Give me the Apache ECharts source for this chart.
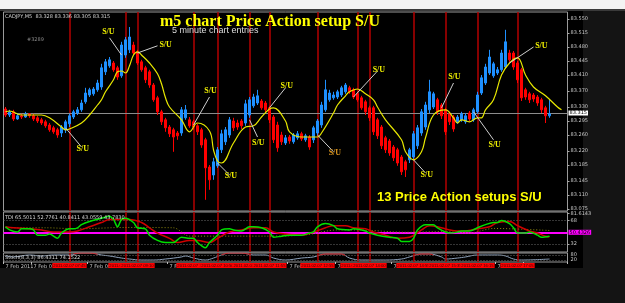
<!DOCTYPE html>
<html>
<head>
<meta charset="utf-8">
<script src="https://cdn.jsdelivr.net/npm/echarts@6/dist/echarts.min.js"></script>
<style>
  html, body { margin: 0; padding: 0; background: #000; }
  #chart { width: 625px; height: 303px; }
</style>
</head>
<body>
<div id="chart"></div>
<script>
// CADJPY M5, 137 bars
const opens = [83.325, 83.310, 83.318, 83.300, 83.308, 83.305, 83.313, 83.308, 83.303, 83.298,
  83.293, 83.285, 83.278, 83.273, 83.265, 83.273, 83.288, 83.305, 83.315, 83.323,
  83.343, 83.360, 83.363, 83.373, 83.380, 83.418, 83.433, 83.440, 83.428, 83.408,
  83.460, 83.473, 83.485, 83.468, 83.443, 83.428, 83.418, 83.385, 83.353, 83.318,
  83.298, 83.280, 83.273, 83.265, 83.265, 83.303, 83.298, 83.293, 83.283, 83.273,
  83.248, 83.180, 83.160, 83.183, 83.223, 83.243, 83.260, 83.295, 83.290, 83.295,
  83.290, 83.310, 83.333, 83.340, 83.345, 83.340, 83.328, 83.305, 83.285, 83.260,
  83.240, 83.255, 83.243, 83.253, 83.263, 83.248, 83.255, 83.248, 83.265, 83.285,
  83.323, 83.348, 83.353, 83.355, 83.360, 83.368, 83.378, 83.373, 83.363, 83.353,
  83.343, 83.328, 83.328, 83.298, 83.280, 83.253, 83.245, 83.230, 83.223, 83.205,
  83.193, 83.198, 83.205, 83.233, 83.265, 83.280, 83.323, 83.330, 83.348, 83.335,
  83.323, 83.313, 83.305, 83.293, 83.298, 83.293, 83.315, 83.298, 83.318, 83.365,
  83.390, 83.415, 83.408, 83.415, 83.423, 83.430, 83.465, 83.465, 83.440, 83.423,
  83.373, 83.363, 83.360, 83.355, 83.348, 83.328, 83.308];
const closes = [83.310, 83.318, 83.300, 83.308, 83.305, 83.313, 83.308, 83.300, 83.295, 83.290,
  83.283, 83.273, 83.268, 83.260, 83.280, 83.293, 83.308, 83.318, 83.323, 83.340,
  83.365, 83.373, 83.375, 83.390, 83.428, 83.443, 83.448, 83.423, 83.405, 83.485,
  83.498, 83.505, 83.465, 83.440, 83.423, 83.398, 83.385, 83.348, 83.318, 83.293,
  83.278, 83.263, 83.255, 83.258, 83.323, 83.323, 83.283, 83.280, 83.268, 83.235,
  83.178, 83.148, 83.193, 83.223, 83.263, 83.273, 83.298, 83.278, 83.280, 83.283,
  83.338, 83.348, 83.355, 83.358, 83.328, 83.323, 83.298, 83.248, 83.228, 83.243,
  83.253, 83.245, 83.260, 83.263, 83.250, 83.258, 83.230, 83.278, 83.295, 83.335,
  83.373, 83.365, 83.360, 83.368, 83.378, 83.385, 83.368, 83.355, 83.348, 83.328,
  83.318, 83.303, 83.268, 83.258, 83.233, 83.223, 83.215, 83.203, 83.190, 83.168,
  83.173, 83.223, 83.263, 83.278, 83.318, 83.335, 83.368, 83.363, 83.318, 83.308,
  83.268, 83.293, 83.275, 83.305, 83.313, 83.308, 83.300, 83.323, 83.360, 83.403,
  83.430, 83.455, 83.438, 83.423, 83.465, 83.493, 83.448, 83.430, 83.398, 83.353,
  83.355, 83.348, 83.350, 83.340, 83.323, 83.308, 83.313];
const lows = [83.305, 83.305, 83.295, 83.298, 83.300, 83.303, 83.303, 83.295, 83.290, 83.285,
  83.278, 83.268, 83.263, 83.253, 83.255, 83.265, 83.280, 83.300, 83.310, 83.318,
  83.338, 83.355, 83.358, 83.368, 83.373, 83.410, 83.428, 83.418, 83.398, 83.403,
  83.453, 83.465, 83.460, 83.435, 83.418, 83.390, 83.378, 83.343, 83.310, 83.285,
  83.268, 83.255, 83.218, 83.248, 83.258, 83.298, 83.278, 83.273, 83.260, 83.228,
  83.098, 83.123, 83.148, 83.178, 83.215, 83.235, 83.253, 83.270, 83.273, 83.275,
  83.283, 83.303, 83.328, 83.335, 83.323, 83.315, 83.290, 83.240, 83.218, 83.235,
  83.235, 83.238, 83.238, 83.248, 83.245, 83.243, 83.223, 83.240, 83.260, 83.278,
  83.318, 83.343, 83.348, 83.350, 83.355, 83.363, 83.363, 83.350, 83.343, 83.323,
  83.310, 83.295, 83.260, 83.250, 83.225, 83.215, 83.208, 83.195, 83.183, 83.160,
  83.155, 83.190, 83.198, 83.225, 83.258, 83.273, 83.315, 83.325, 83.310, 83.300,
  83.260, 83.285, 83.268, 83.288, 83.293, 83.288, 83.295, 83.293, 83.313, 83.360,
  83.385, 83.410, 83.403, 83.410, 83.418, 83.425, 83.443, 83.423, 83.390, 83.345,
  83.348, 83.340, 83.343, 83.333, 83.315, 83.290, 83.303];
const highs = [83.330, 83.323, 83.323, 83.315, 83.313, 83.318, 83.315, 83.313, 83.308, 83.303,
  83.298, 83.290, 83.283, 83.278, 83.285, 83.298, 83.313, 83.323, 83.330, 83.348,
  83.378, 83.378, 83.380, 83.398, 83.438, 83.450, 83.455, 83.445, 83.433, 83.493,
  83.505, 83.530, 83.493, 83.473, 83.448, 83.433, 83.423, 83.390, 83.358, 83.323,
  83.303, 83.285, 83.278, 83.270, 83.330, 83.335, 83.305, 83.298, 83.288, 83.278,
  83.253, 83.185, 83.203, 83.230, 83.273, 83.280, 83.305, 83.303, 83.298, 83.300,
  83.348, 83.355, 83.363, 83.373, 83.350, 83.345, 83.333, 83.310, 83.293, 83.268,
  83.260, 83.260, 83.265, 83.270, 83.268, 83.263, 83.260, 83.283, 83.300, 83.343,
  83.398, 83.373, 83.368, 83.373, 83.383, 83.390, 83.383, 83.378, 83.368, 83.358,
  83.348, 83.333, 83.333, 83.303, 83.285, 83.258, 83.250, 83.235, 83.228, 83.210,
  83.198, 83.228, 83.270, 83.285, 83.325, 83.343, 83.398, 83.368, 83.353, 83.340,
  83.328, 83.318, 83.310, 83.310, 83.318, 83.315, 83.320, 83.328, 83.368, 83.410,
  83.438, 83.473, 83.443, 83.430, 83.473, 83.523, 83.473, 83.470, 83.445, 83.428,
  83.378, 83.368, 83.365, 83.360, 83.353, 83.333, 83.348];

// yellow displaced MA (bar index, price)
const maIdx = [0, 1, 4, 9, 11, 14, 15, 16, 19, 21, 23, 24, 25, 27, 28, 29, 30, 31, 32, 33, 34, 36, 38, 39, 40, 41,
  44, 46, 48, 51, 52, 53, 54, 57, 60, 62, 64, 66, 67, 70, 71, 74, 78, 79, 82, 83, 85, 86, 88, 90, 92, 93, 95,
  99, 100, 102, 104, 105, 107, 110, 112, 113, 114, 116, 118, 119, 120, 122, 124, 126, 128, 130, 132, 135, 138, 139];
const maVal = [83.318, 83.320, 83.310, 83.310, 83.303, 83.280, 83.273, 83.275, 83.290, 83.310, 83.335, 83.348, 83.368,
  83.398, 83.418, 83.420, 83.415, 83.433, 83.460, 83.468, 83.460, 83.440, 83.413, 83.388, 83.353, 83.330,
  83.298, 83.268, 83.290, 83.270, 83.223, 83.195, 83.190, 83.240, 83.280, 83.283, 83.305, 83.325, 83.328,
  83.295, 83.268, 83.255, 83.255, 83.265, 83.315, 83.335, 83.358, 83.368, 83.375, 83.363, 83.348, 83.330,
  83.298, 83.248, 83.218, 83.198, 83.218, 83.253, 83.310, 83.323, 83.303, 83.290, 83.298, 83.293, 83.303,
  83.303, 83.323, 83.348, 83.410, 83.440, 83.453, 83.410, 83.380, 83.358, 83.330, 83.323];

// S/U arrows: label end -> touched point
const suFromIdx = [26, 38, 51, 70, 93, 112, 132, 19, 56, 63, 82, 105, 122];
const suFromPrice = [83.503, 83.483, 83.355, 83.378, 83.420, 83.390, 83.480, 83.230, 83.160, 83.255, 83.218, 83.165, 83.248];
const suToIdx = [29, 33, 47, 66, 87, 109, 126, 15, 53, 61, 78, 102, 117];
const suToPrice = [83.460, 83.465, 83.285, 83.328, 83.355, 83.328, 83.440, 83.278, 83.190, 83.298, 83.260, 83.198, 83.318];

// red vertical setup lines (bar index)
const vlineIdx = [16, 30, 33, 47, 53, 61, 66, 78, 88, 91, 102, 110, 118, 128];

const priceTicks = [83.550, 83.515, 83.480, 83.445, 83.410, 83.370, 83.330, 83.295, 83.260, 83.220, 83.185, 83.145, 83.110, 83.075];
const lastPrice = 83.315;

// TDI window
const rsiIdx = [0, 1, 3, 4, 6, 7, 8, 10, 11, 13, 14, 16, 17, 18, 19, 21, 24, 26, 27, 28, 29, 30, 32, 33, 35, 36, 38, 40,
  42, 44, 46, 47, 48, 49, 50, 51, 53, 54, 56, 57, 59, 61, 62, 64, 66, 67, 69, 71, 74, 76, 77, 78, 80, 82, 83, 86,
  87, 90, 91, 93, 96, 98, 99, 101, 102, 103, 105, 107, 108, 110, 111, 113, 114, 116, 118, 120, 122, 123, 124,
  126, 127, 128, 130, 131, 133, 134, 136];
const rsiVal = [58.6, 53.7, 50.4, 55.4, 55.4, 53.7, 45.5, 45.5, 47.2, 40.6, 48.8, 55.4, 55.4, 57.0, 61.9, 66.9, 71.8,
  75.1, 70.1, 58.6, 70.1, 71.8, 65.2, 57.0, 55.4, 45.5, 37.3, 34.0, 34.0, 42.2, 40.6, 40.6, 34.0, 29.1, 25.8,
  34.0, 45.5, 53.7, 55.4, 53.7, 52.1, 58.6, 58.6, 57.0, 50.4, 42.2, 43.9, 45.5, 45.5, 48.8, 50.4, 58.6, 63.6,
  60.3, 55.4, 53.7, 55.4, 52.1, 48.8, 45.5, 42.2, 40.6, 35.7, 35.7, 40.6, 53.7, 61.9, 61.9, 57.0, 50.4, 48.8,
  50.4, 52.1, 52.1, 57.0, 61.9, 65.2, 65.2, 68.5, 63.6, 57.0, 48.8, 48.8, 50.4, 45.5, 42.2, 43.8];
const sigIdx = [0, 2, 6, 9, 12, 16, 18, 21, 24, 26, 29, 31, 34, 36, 38, 41, 43, 46, 48, 51, 53, 56, 59, 62, 65, 67,
  70, 74, 77, 80, 82, 85, 87, 90, 92, 95, 98, 101, 104, 106, 108, 111, 113, 115, 118, 121, 123, 126, 128, 131,
  133, 135, 136];
const sigVal = [58.6, 57.0, 55.4, 53.7, 50.4, 50.4, 52.1, 58.6, 65.2, 70.1, 70.1, 70.1, 65.2, 57.0, 48.8, 40.6, 34.0,
  37.3, 37.3, 34.0, 40.6, 50.4, 53.7, 57.0, 57.0, 50.4, 47.2, 45.5, 50.4, 57.0, 60.3, 60.3, 57.0, 55.4, 50.4,
  45.5, 40.6, 42.2, 53.7, 60.3, 58.6, 53.7, 52.1, 52.1, 55.4, 58.6, 65.2, 66.9, 60.3, 52.1, 48.8, 43.9, 43.1];
const baseIdx = [0, 10, 18, 30, 42, 46, 66, 75, 83, 88, 100, 110, 116, 122, 136];
const baseVal = [57.0, 57.0, 55.5, 57.5, 57.0, 44.0, 44.0, 46.0, 53.7, 53.7, 50.0, 51.0, 49.0, 56.0, 52.8];
const tdiTickVals = [79.4, 68, 32, 25];
const tdiTickText = ['81.6143', '68', '32', '19.2626'];
const tdiLevels = [68, 32];
const tdiMid = 50;

// bottom oscillator window
const oscIdx = [0, 2, 6, 9, 12, 16, 19, 21, 24, 26, 29, 31, 34, 37, 40, 44, 45, 47, 50, 52, 54, 56, 59, 62, 65, 67,
  70, 74, 77, 80, 84, 86, 89, 95, 99, 101, 104, 106, 109, 110, 113, 115, 118, 123, 125, 127, 129, 136];
const oscVal = [67, 56, 78, 67, 78, 78, 100, 100, 78, 67, 44, 33, 22, 22, 33, 56, 67, 44, 22, 44, 78, 100, 100, 78,
  78, 44, 22, 44, 56, 89, 89, 44, 22, 22, 33, 56, 89, 89, 56, 33, 44, 56, 78, 78, 67, 33, 22, 33];
// red signal visible only near the tops (null = gap)
const oscRedIdx = [17, 19, 21, 23, 24, 54, 56, 59, 61, 62, 78, 80, 84, 85, 86, 102, 104, 106, 107];
const oscRedVal = [90, 100, 100, 86, null, 80, 100, 100, 84, null, 67, 89, 89, 70, null, 70, 89, 89, 75];
const oscTicks = [80, 20];

// time axis (5 minute bars)
const startMinutes = 6 * 60 + 25;
const cats = [];
for (let i = 0; i < 141; i++) {
  const m = startMinutes + 5 * i;
  cats.push(String(Math.floor(m / 60)).padStart(2, '0') + ':' + String(m % 60).padStart(2, '0'));
}
const timeLabelIdx = [0, 7, 21, 41, 71, 83, 97, 123, 130];

const chart = echarts.init(document.getElementById('chart'));
const pairs = (idx, val) => idx.map((x, k) => [x, val[k]]);
const candles = opens.map((o, i) => [o, closes[i], lows[i], highs[i]]);
const tiny = { fontSize: 5, color: '#c8c8c8', fontFamily: 'DejaVu Sans' };
const gridBase = { left: 3.5, width: 564, show: true, backgroundColor: '#000', borderColor: '#9a9a9a', borderWidth: 1 };
const vlineStyle = { color: '#b40000', width: 1.5, type: 'solid', opacity: 1 };

const vlineItems = (withLabel) => vlineIdx.map(i => ({
  xAxis: i,
  lineStyle: vlineStyle,
  label: withLabel ? {
    show: true, position: 'start', distance: 1,
    formatter: '2011.02.07 ' + cats[i],
    backgroundColor: '#ff0000', color: '#3a0000', fontSize: 4.2,
    fontFamily: 'Liberation Sans', padding: [1, 1, 0, 1]
  } : { show: false }
}));
const levelItems = (vals) => vals.map(v => ({
  yAxis: v, lineStyle: { color: '#6a6a6a', type: [1, 2], width: 1 }, label: { show: false }
}));

const xCat = (gi, show) => ({
  type: 'category', gridIndex: gi, data: cats, boundaryGap: true,
  axisLine: { show: false }, splitLine: { show: false },
  axisTick: show ? { show: true, interval: (i) => timeLabelIdx.includes(i), length: 2, lineStyle: { color: '#bbb' } } : { show: false },
  axisLabel: show ? {
    show: true, interval: (i) => timeLabelIdx.includes(i), align: 'left', margin: 2,
    formatter: (v, i) => i === 0 ? '7 Feb 2011' : '7 Feb ' + v, ...tiny
  } : { show: false }
});

const option = {
  backgroundColor: '#000',
  animation: false,
  graphic: [
    { type: 'rect', shape: { x: 0, y: 0, width: 625, height: 9 }, style: { fill: '#f3f3f3' } },
    { type: 'rect', shape: { x: 0, y: 9, width: 625, height: 2 }, style: { fill: '#3a3a3a' } },
    { type: 'rect', shape: { x: 583, y: 11, width: 42, height: 292 }, style: { fill: '#141414' } },
    { type: 'rect', shape: { x: 0, y: 268, width: 583, height: 35 }, style: { fill: '#141414' } }
  ],
  title: [
    { text: 'm5 chart Price Action setup S/U', left: 160, top: 14, padding: 0,
      textStyle: { color: '#ffff00', fontFamily: 'Liberation Serif', fontWeight: 'bold', fontSize: 16 } },
    { text: '5 minute chart entries', left: 172, top: 26, padding: 0,
      textStyle: { color: '#dcdcdc', fontFamily: 'Liberation Sans', fontWeight: 'normal', fontSize: 9 } },
    { text: '13 Price Action setups S/U', left: 377, top: 191, padding: 0,
      textStyle: { color: '#ffff00', fontFamily: 'Liberation Sans', fontWeight: 'bold', fontSize: 13 } },
    { text: 'CADJPY,M5  83.328 83.336 83.305 83.315', left: 5, top: 14, padding: 0,
      textStyle: { ...tiny, fontWeight: 'normal', color: '#d8d8d8' } },
    { text: '#3289', left: 27, top: 37, padding: 0,
      textStyle: { ...tiny, fontWeight: 'normal', color: '#8a8a8a' } },
    { text: 'TDI 65.5011 52.7761 40.8411 43.0559 43.7830', left: 5, top: 215, padding: 0,
      textStyle: { ...tiny, fontWeight: 'normal', color: '#d8d8d8' } },
    { text: 'Stoch(8,3,3) 86.4311 74.1522', left: 5, top: 255, padding: 0,
      textStyle: { ...tiny, fontWeight: 'normal', color: '#d8d8d8' } }
  ],
  grid: [
    { ...gridBase, top: 12, height: 199 },
    { ...gridBase, top: 212, height: 40 },
    { ...gridBase, top: 253, height: 9 }
  ],
  xAxis: [xCat(0, false), xCat(1, false), xCat(2, true)],
  yAxis: [
    { type: 'value', gridIndex: 0, position: 'right', min: 83.070, max: 83.5675,
      splitLine: { show: false }, axisLine: { show: false },
      axisTick: { show: true, length: 2, customValues: priceTicks, lineStyle: { color: '#aaa' } },
      axisLabel: { customValues: priceTicks, margin: 3, formatter: v => v.toFixed(3), ...tiny } },
    { type: 'value', gridIndex: 1, position: 'right', min: 19.2626, max: 81.6143,
      splitLine: { show: false }, axisLine: { show: false },
      axisTick: { show: true, length: 2, customValues: tdiTickVals, lineStyle: { color: '#aaa' } },
      axisLabel: { customValues: tdiTickVals, margin: 3,
        formatter: v => tdiTickText[tdiTickVals.indexOf(v)] || '', ...tiny } },
    { type: 'value', gridIndex: 2, position: 'right', min: 0, max: 100,
      splitLine: { show: false }, axisLine: { show: false },
      axisTick: { show: false },
      axisLabel: { customValues: oscTicks, margin: 3, ...tiny } }
  ],
  series: [
    // candles + S/U arrows
    { type: 'candlestick', xAxisIndex: 0, yAxisIndex: 0, data: candles, barWidth: 3, z: 3,
      itemStyle: { color: '#1e90ff', color0: '#ff0000', borderColor: '#1e90ff', borderColor0: '#ff0000', borderWidth: 1 },
      markLine: {
        silent: true, symbol: 'none', z: 6,
        lineStyle: { color: '#cfcfcf', width: 1, type: 'solid' },
        label: { show: true, position: 'start', distance: 2, formatter: 'S/U',
          color: '#f0f000', fontFamily: 'Liberation Serif', fontWeight: 'bold', fontSize: 8 },
        data: suFromIdx.map((fi, k) => [
          { coord: [fi, suFromPrice[k]], label: k === 10 ? { color: '#d9941e' } : {} },
          { coord: [suToIdx[k], suToPrice[k]] }
        ])
      } },
    // yellow MA + vertical lines + bid line
    { type: 'line', xAxisIndex: 0, yAxisIndex: 0, data: pairs(maIdx, maVal), smooth: 0.4, showSymbol: false, z: 4,
      lineStyle: { color: '#e8e800', width: 1.2 },
      markLine: {
        silent: true, symbol: 'none', z: 1, precision: 4, lineStyle: vlineStyle,
        data: vlineItems(false).concat([{
          yAxis: lastPrice,
          lineStyle: { color: '#8c8c8c', width: 1, type: 'solid' },
          label: { show: true, position: 'end', distance: 1, formatter: lastPrice.toFixed(3),
            backgroundColor: '#ffffff', color: '#000', fontSize: 5, padding: [0, 1], fontFamily: 'DejaVu Sans' }
        }])
      } },
    // TDI base line (dotted) + vertical lines + levels
    { type: 'line', xAxisIndex: 1, yAxisIndex: 1, data: pairs(baseIdx, baseVal), smooth: 0.3, showSymbol: false, z: 3,
      lineStyle: { color: '#8f8a10', width: 1, type: [1, 2] },
      markLine: {
        silent: true, symbol: 'none', z: 1, precision: 4, lineStyle: vlineStyle,
        data: vlineItems(false).concat(levelItems(tdiLevels), [{
          yAxis: tdiMid, lineStyle: { color: '#ff00ff', width: 2, type: 'solid' },
          label: { show: true, position: 'end', distance: 1, formatter: '50.4326', backgroundColor: '#ff00ff',
            color: '#000', fontSize: 5, padding: [0, 1], fontFamily: 'DejaVu Sans' }
        }])
      } },
    // TDI signal line
    { type: 'line', xAxisIndex: 1, yAxisIndex: 1, data: pairs(sigIdx, sigVal), smooth: 0.4, showSymbol: false, z: 4,
      lineStyle: { color: '#d00000', width: 1.5 } },
    // TDI RSI price line
    { type: 'line', xAxisIndex: 1, yAxisIndex: 1, data: pairs(rsiIdx, rsiVal), smooth: 0.3, showSymbol: false, z: 5,
      lineStyle: { color: '#00e000', width: 1.5 } },
    // oscillator + vertical lines with time tags
    { type: 'line', xAxisIndex: 2, yAxisIndex: 2, data: pairs(oscIdx, oscVal), smooth: 0.4, showSymbol: false, z: 4,
      lineStyle: { color: '#8ea2bb', width: 1 },
      markLine: {
        silent: true, symbol: 'none', z: 6, precision: 4, lineStyle: vlineStyle,
        data: vlineItems(true).concat(levelItems(oscTicks))
      } },
    // oscillator red signal near the tops
    { type: 'line', xAxisIndex: 2, yAxisIndex: 2, data: pairs(oscRedIdx, oscRedVal), smooth: 0.4, showSymbol: false, z: 5,
      lineStyle: { color: '#d01010', width: 1 } }
  ]
};
chart.setOption(option);
</script>
</body>
</html>
